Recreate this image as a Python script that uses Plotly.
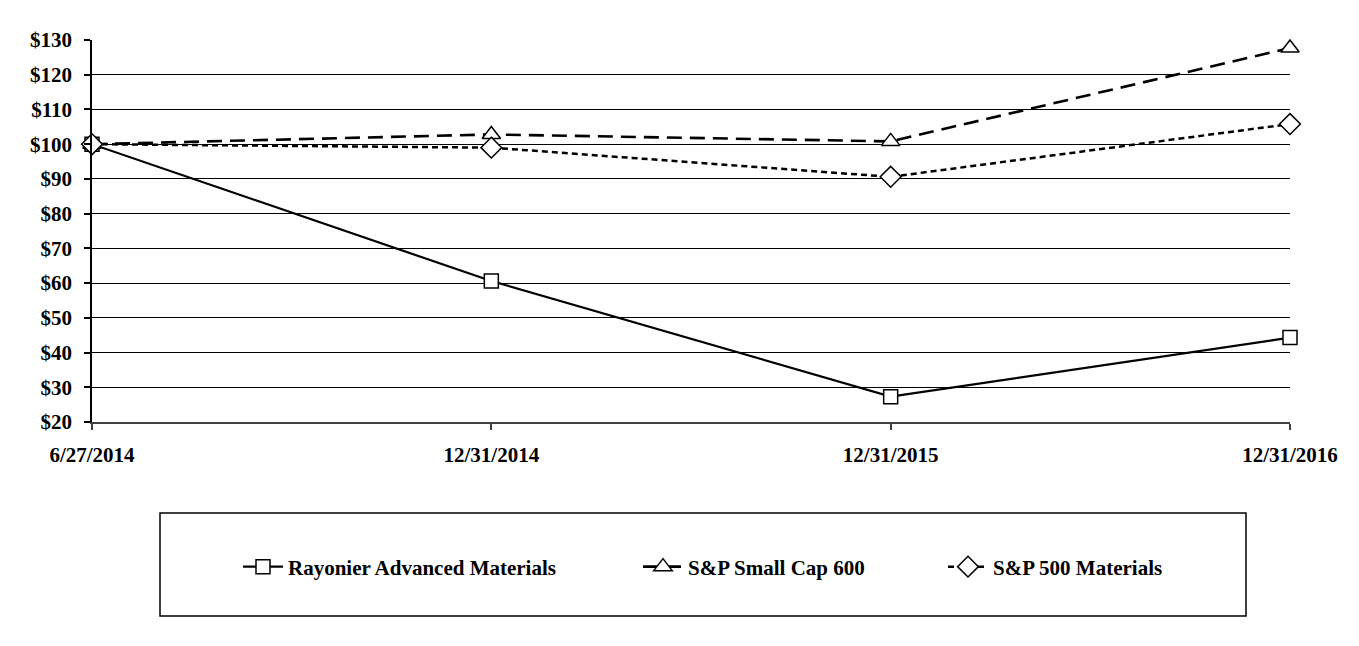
import plotly.graph_objects as go

dates = ["6/27/2014", "12/31/2014", "12/31/2015", "12/31/2016"]
rayonier = [100, 60.6, 27.3, 44.3]
smallcap = [100, 102.8, 100.8, 127.7]
materials = [100, 99.0, 90.6, 105.8]
y_ticks = [20, 30, 40, 50, 60, 70, 80, 90, 100, 110, 120, 130]

FONT = "Liberation Serif"
FS = 21
W, H = 1359, 646
OFF = 8  # page margin offset of the rendered figure
# target screen positions of the plot area
SL, SR, ST, SB = 92, 1290, 40, 422
L = SL - OFF
T = ST - OFF
R = W - (SR - OFF)
B = H - (SB - OFF)
pw = SR - SL
ph = SB - ST

xs = list(range(len(dates)))

def px_x(p):
    return (p - SL) / pw

def px_y(p):
    return (SB - p) / ph

fig = go.Figure()
fig.add_trace(go.Scatter(
    x=xs, y=rayonier, name="<b>Rayonier Advanced Materials</b>", mode="lines+markers",
    line=dict(color="black", width=2.2),
    marker=dict(symbol="square", size=14, color="white", line=dict(color="black", width=1.5)),
    cliponaxis=False, legend="legend"))
fig.add_trace(go.Scatter(
    x=xs, y=smallcap, name="<b>S&P Small Cap 600</b>", mode="lines+markers",
    line=dict(color="black", width=2.6, dash="15px,8px"),
    marker=dict(symbol="triangle-up", size=16, color="white", line=dict(color="black", width=1.5)),
    cliponaxis=False, legend="legend2"))
fig.add_trace(go.Scatter(
    x=xs, y=materials, name="<b>S&P 500 Materials</b>", mode="lines+markers",
    line=dict(color="black", width=2.5, dash="6px,4px"),
    marker=dict(symbol="diamond", size=16, color="white", line=dict(color="black", width=1.5)),
    cliponaxis=False, legend="legend3"))

leg_common = dict(orientation="h", yanchor="middle", xanchor="left", itemwidth=40,
                  font=dict(family=FONT, size=FS, color="black"),
                  bgcolor="rgba(0,0,0,0)", borderwidth=0)
fig.update_layout(
    legend=dict(x=px_x(238), y=px_y(567), **leg_common),
    legend2=dict(x=px_x(638), y=px_y(567), **leg_common),
    legend3=dict(x=px_x(943), y=px_y(567), **leg_common),
)

fig.add_shape(type="rect", xref="paper", yref="paper",
              x0=px_x(160), x1=px_x(1246), y0=px_y(616), y1=px_y(513),
              line=dict(color="black", width=1.5), fillcolor="rgba(0,0,0,0)")

fig.update_layout(
    width=W, height=H,
    margin=dict(l=L, r=R, t=T, b=B, autoexpand=False),
    paper_bgcolor="white", plot_bgcolor="white",
    font=dict(family=FONT, size=FS, color="black"),
    showlegend=True,
    xaxis=dict(
        range=[0, 3], tickmode="array", tickvals=xs,
        ticktext=["<b>%s</b>" % d for d in dates],
        showgrid=False, zeroline=False, showline=True, linecolor="#404040", linewidth=1.5,
        ticks="outside", ticklen=6, tickcolor="#404040", tickwidth=1.5,
        ticklabelstandoff=7,
        tickfont=dict(family=FONT, size=FS, color="black"),
    ),
    yaxis=dict(
        range=[20, 130], tickmode="array", tickvals=y_ticks,
        ticktext=["<b>$%d</b>" % v for v in y_ticks],
        showgrid=True, gridcolor="black", gridwidth=1, zeroline=False,
        showline=True, linecolor="black", linewidth=1.5,
        ticks="outside", ticklen=6, tickcolor="black", tickwidth=1.5,
        ticklabelstandoff=8,
        tickfont=dict(family=FONT, size=FS, color="black"),
    ),
)

fig.write_html("out.html")
